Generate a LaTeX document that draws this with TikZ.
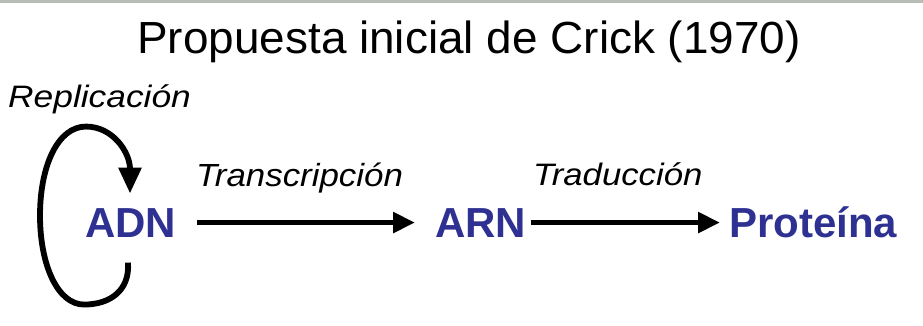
\documentclass[tikz,border=0pt]{standalone}
\usepackage{fontspec}
\setmainfont{Liberation Sans}
\usetikzlibrary{arrows.meta}
\definecolor{dnablue}{RGB}{46,49,146}
\definecolor{bandgray}{RGB}{184,190,181}
\begin{document}
\begin{tikzpicture}[x=1pt,y=-1pt,
  titletxt/.style={inner sep=0pt,anchor=base,font=\fontsize{45}{54}\selectfont},
  proctxt/.style={inner sep=0pt,anchor=base west,font=\itshape\fontsize{31}{37}\selectfont},
  moltxt/.style={inner sep=0pt,anchor=base west,text=dnablue,font=\bfseries\fontsize{42}{50}\selectfont},
  flowarrow/.style={line width=5.8pt,-{Triangle[length=22pt,width=20pt]}},
  looparrow/.style={line width=5.8pt,-{Triangle[length=26pt,width=22pt]}}]
\useasboundingbox (0,0) rectangle (923,325);
\fill[white] (0,0) rectangle (923,325);
\fill[bandgray] (0,0) rectangle (923,2.5);
\node[titletxt] (title) at (469,53) {\scalebox{1.02}[1]{Propuesta inicial de Crick (1970)}};
\node[proctxt] (repl) at (8,107) {\scalebox{1.14}[1]{Replicación}};
\node[moltxt] (adn) at (85,237) {ADN};
\node[moltxt] (arn) at (435,237) {ARN};
\node[moltxt] (prot) at (729,237) {Proteína};
\node[proctxt,font=\itshape\fontsize{32}{38}\selectfont] (transc) at (196,186) {\scalebox{1.09}[1]{Transcripción}};
\node[proctxt] (trad) at (533,185) {\scalebox{1.12}[1]{Traducción}};
\draw[flowarrow] ([xshift=21pt]adn.east) -- ([xshift=-20pt]arn.west);
\draw[flowarrow] ([xshift=5pt]arn.east) -- ([xshift=-9pt]prot.west |- arn.east);
\begin{scope}[shift={(adn.west)}]
\coordinate (loopout) at (43,40);
\coordinate (loopin) at (45,-29);
\draw[looparrow] (loopout) .. controls (45,68) and (25,82) .. (-1,82)
  .. controls (-27,82) and (-45,43) .. (-45,-7)
  .. controls (-45,-57) and (-27,-96) .. (1,-96)
  .. controls (28,-96) and (45,-70) .. (loopin);
\end{scope}
\end{tikzpicture}
\end{document}
